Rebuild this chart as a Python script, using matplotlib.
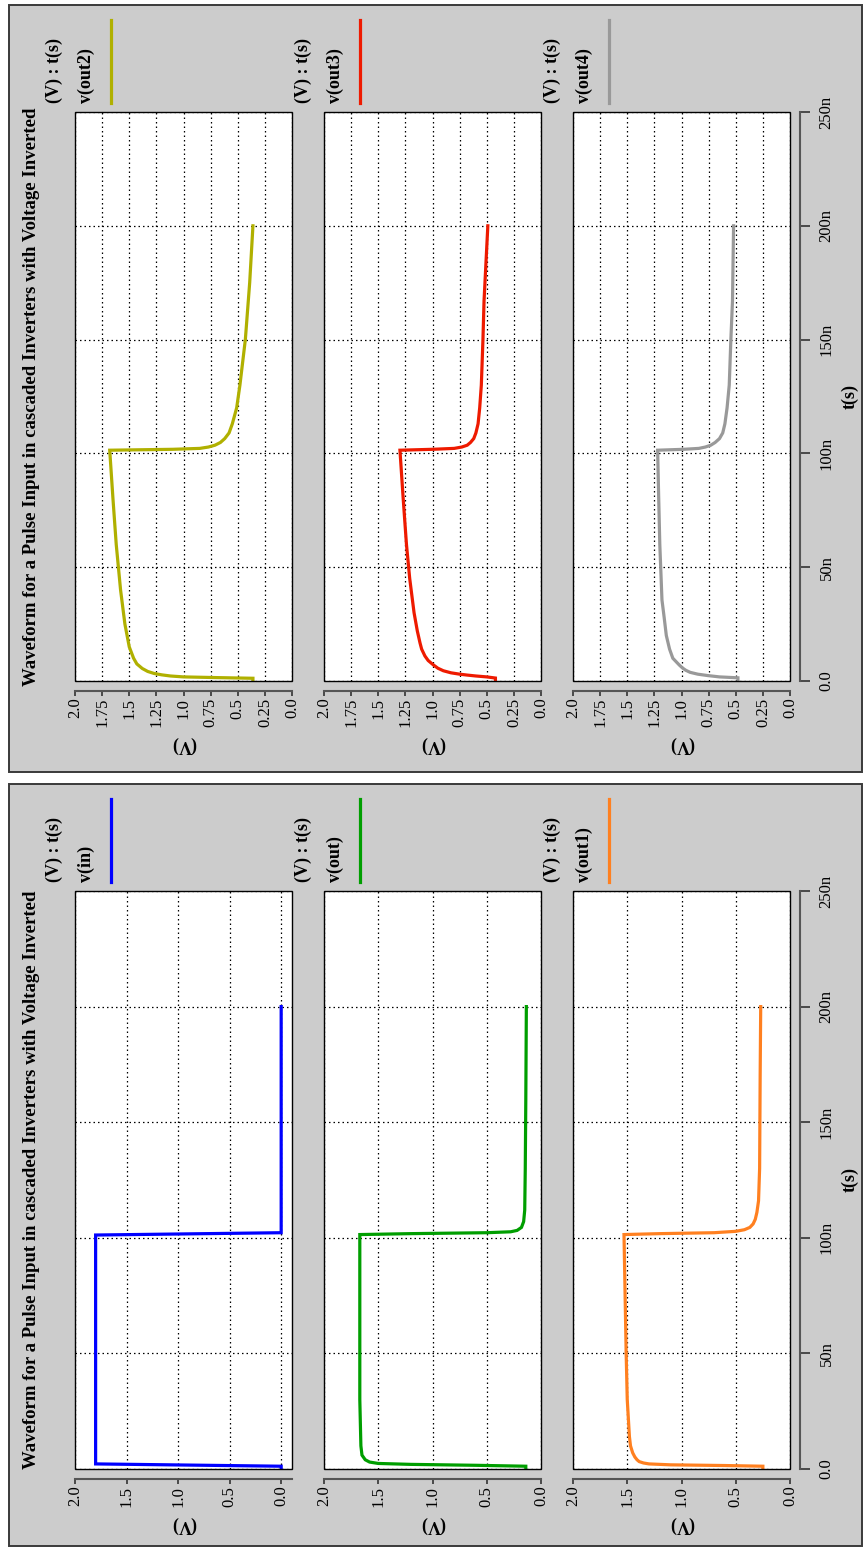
import numpy as np
import matplotlib.pyplot as plt
from matplotlib.patches import Rectangle
from matplotlib.lines import Line2D

# ---- waveform samples (time in ns, voltage in V) ----
t_in = [0, 1.2, 2.2, 101.2, 102.2, 200]
v_in = [0, 0, 1.8, 1.8, 0, 0]

t_out = [0, 1.2, 1.6, 2.0, 2.4, 3.0, 4.0, 6.0, 10, 30, 60, 101.4,
         101.8, 102.2, 102.6, 103.2, 104.5, 107, 112, 130, 160, 200]
v_out = [0.14, 0.14, 0.6, 1.2, 1.5, 1.58, 1.62, 1.65, 1.66, 1.67, 1.67, 1.67,
         1.2, 0.5, 0.28, 0.22, 0.18, 0.16, 0.15, 0.145, 0.14, 0.135]

t_out1 = [0, 1.2, 1.5, 1.8, 2.2, 2.6, 3.2, 4.0, 5.2, 7, 10, 14, 30, 50, 101.4,
          101.8, 102.2, 102.8, 103.5, 104.5, 106, 108, 111, 116, 130, 170, 200]
v_out1 = [0.25, 0.25, 0.6, 1.1, 1.3, 1.35, 1.39, 1.41, 1.43, 1.45, 1.47, 1.48,
          1.50, 1.51, 1.53,
          1.2, 0.7, 0.5, 0.42, 0.37, 0.34, 0.32, 0.305, 0.29, 0.28, 0.275, 0.27]

t_out2 = [0, 1.2, 1.5, 1.8, 2.2, 2.7, 3.3, 4.2, 5.5, 7.5, 10, 15, 25, 40, 60,
          80, 101.4,
          101.8, 102.2, 102.8, 103.6, 104.8, 106.5, 109, 113, 120, 130, 150,
          175, 200]
v_out2 = [0.36, 0.36, 0.7, 1.0, 1.12, 1.2, 1.27, 1.33, 1.38, 1.43, 1.46, 1.5,
          1.54, 1.58, 1.62, 1.65, 1.68,
          1.1, 0.85, 0.77, 0.71, 0.66, 0.62, 0.58, 0.55, 0.51, 0.48, 0.43,
          0.39, 0.36]

t_out3 = [0, 1.3, 1.8, 2.2, 2.6, 3.0, 3.6, 4.5, 5.6, 7, 9, 11, 14, 16.7, 22,
          30, 45, 60, 80, 101.4,
          101.8, 102.2, 102.8, 103.6, 104.8, 106.5, 109, 113, 120, 130, 150,
          167, 200]
v_out3 = [0.42, 0.42, 0.5, 0.6, 0.68, 0.75, 0.83, 0.9, 0.95, 0.99, 1.04, 1.07,
          1.1, 1.115, 1.14, 1.17, 1.21, 1.24, 1.27, 1.3,
          1.0, 0.8, 0.73, 0.68, 0.65, 0.62, 0.6, 0.58, 0.565, 0.55, 0.535,
          0.525, 0.49]

t_out4 = [0, 1.4, 1.8, 2.4, 3.0, 3.8, 4.7, 5.7, 7, 8.5, 10, 14, 20, 28, 35.6,
          60, 80, 101.4,
          101.8, 102.2, 102.8, 103.6, 104.8, 106.5, 109, 113, 120, 130, 150,
          167, 200]
v_out4 = [0.48, 0.48, 0.65, 0.76, 0.85, 0.92, 0.96, 0.99, 1.02, 1.05, 1.08,
          1.11, 1.14, 1.16, 1.18, 1.2, 1.21, 1.22,
          0.98, 0.84, 0.78, 0.73, 0.69, 0.65, 0.62, 0.6, 0.58, 0.56, 0.545,
          0.53, 0.52]

lower_names = ['v(in)', 'v(out)', 'v(out1)']
upper_names = ['v(out2)', 'v(out3)', 'v(out4)']
lower_colors = ['#0000ff', '#009e00', '#ff8020']
upper_colors = ['#b0b000', '#ee1a00', '#999999']

t_ticks = [0, 50, 100, 150, 200, 250]
t_labels = ['0.0', '50n', '100n', '150n', '200n', '250n']
v_ticks_low = [2.0, 1.5, 1.0, 0.5, 0.0]
v_labels_low = ['2.0', '1.5', '1.0', '0.5', '0.0']
v_ticks_up = [2.0, 1.75, 1.5, 1.25, 1.0, 0.75, 0.5, 0.25, 0.0]
v_labels_up = ['2.0', '1.75', '1.5', '1.25', '1.0', '0.75', '0.5', '0.25', '0.0']

title = 'Waveform for a Pulse Input in cascaded Inverters with Voltage Inverted'

plt.rcParams['font.family'] = ['Liberation Serif', 'DejaVu Serif']

W, H = 863, 1547
fig = plt.figure(figsize=(W / 100, H / 100), dpi=100)
fig.patch.set_facecolor('white')


def fx(px):
    return px / W


def fy(py):
    return 1 - py / H


FS_TXT = 13
FS_TITLE = 13.5
FS_TICK = 12

# grey window backgrounds, kept behind the axes
for (x0, y0, x1, y1) in [(9, 5, 862, 772), (9, 784, 862, 1546)]:
    fig.patches.append(Rectangle((fx(x0), fy(y1)), fx(x1 - x0), (y1 - y0) / H,
                                 transform=fig.transFigure, facecolor='#cccccc',
                                 edgecolor='#3a3a3a', lw=1.4, zorder=-5))

cols = [(75, 292), (324, 541), (573, 790)]


def panel(top, bottom, series, names, colors, vticks, vlabels, vlims, vlab_gap):
    for i, ((x0, x1), (tt, vv), name, col, vlim) in enumerate(
            zip(cols, series, names, colors, vlims)):
        ax = fig.add_axes([fx(x0), fy(bottom), (x1 - x0) / W, (bottom - top) / H])
        ax.set_zorder(1)

        # offset axis lines first: moving a spine rebuilds the ticks
        for s in ['top', 'left', 'right']:
            ax.spines[s].set_visible(False)
        ax.spines['bottom'].set_position(('outward', 7))
        ax.spines['bottom'].set_color('#555555')
        ax.spines['bottom'].set_linewidth(1.5)
        if i == 2:
            ax.yaxis.tick_right()
            ax.spines['right'].set_visible(True)
            ax.spines['right'].set_position(('outward', 7))
            ax.spines['right'].set_color('#555555')
            ax.spines['right'].set_linewidth(1.5)

        ax.plot(vv, tt, color=col, lw=2.3, solid_joinstyle='miter', zorder=3)
        ax.set_xlim(*vlim)
        ax.set_ylim(0, 250)
        ax.set_xticks(vticks)
        ax.set_xticklabels(vlabels)
        ax.set_yticks(t_ticks)
        ax.grid(True, color='black', lw=0.9, linestyle=(0, (1.2, 2.4)))
        ax.tick_params(axis='x', direction='out', length=3.5, width=1.2,
                       color='#333333', pad=1.5, labelsize=FS_TICK,
                       labelrotation=90)
        ax.add_patch(Rectangle((0, 0), 1, 1, transform=ax.transAxes, fill=False,
                               edgecolor='black', lw=1.0, zorder=4, clip_on=False))
        if i == 2:
            ax.set_yticklabels(t_labels)
            ax.tick_params(axis='y', direction='out', length=7.5, width=1.2,
                           color='#333333', pad=6, labelsize=FS_TICK,
                           labelrotation=90)
            for lab in ax.get_yticklabels():
                lab.set_va('center')
        else:
            ax.tick_params(axis='y', left=False, labelleft=False,
                           right=False, labelright=False)

        # axis label under each plot
        fig.text(fx((x0 + x1) / 2), fy(bottom + vlab_gap), '(V)', rotation=180,
                 ha='center', va='center', fontweight='bold', fontsize=FS_TXT)
        # legend entry above each plot
        fig.text(fx(x0 - 21), fy(top - 9), '(V) : t(s)', rotation=90,
                 ha='center', va='bottom', fontweight='bold', fontsize=FS_TXT)
        fig.text(fx(x0 + 11), fy(top - 9), name, rotation=90,
                 ha='center', va='bottom', fontweight='bold', fontsize=FS_TXT)
        fig.lines.append(Line2D([fx(x0 + 36), fx(x0 + 36)],
                                [fy(top - 9), fy(top - 92)],
                                transform=fig.transFigure, color=col, lw=2.3))

    mid = (top + bottom) / 2
    fig.text(fx(32), fy(mid), title, rotation=90, ha='center', va='center',
             fontweight='bold', fontsize=FS_TITLE)
    fig.text(fx(850), fy(mid), 't(s)', rotation=90, ha='center', va='center',
             fontweight='bold', fontsize=FS_TXT)


panel(112, 681, [(t_out2, v_out2), (t_out3, v_out3), (t_out4, v_out4)],
      upper_names, upper_colors, v_ticks_up, v_labels_up,
      [(2.0, 0.0)] * 3, 64)
panel(891, 1469, [(t_in, v_in), (t_out, v_out), (t_out1, v_out1)],
      lower_names, lower_colors, v_ticks_low, v_labels_low,
      [(2.0, -0.105), (2.0, 0.0), (2.0, 0.0)], 56)

fig.savefig('out.png', dpi=100, facecolor='white')
